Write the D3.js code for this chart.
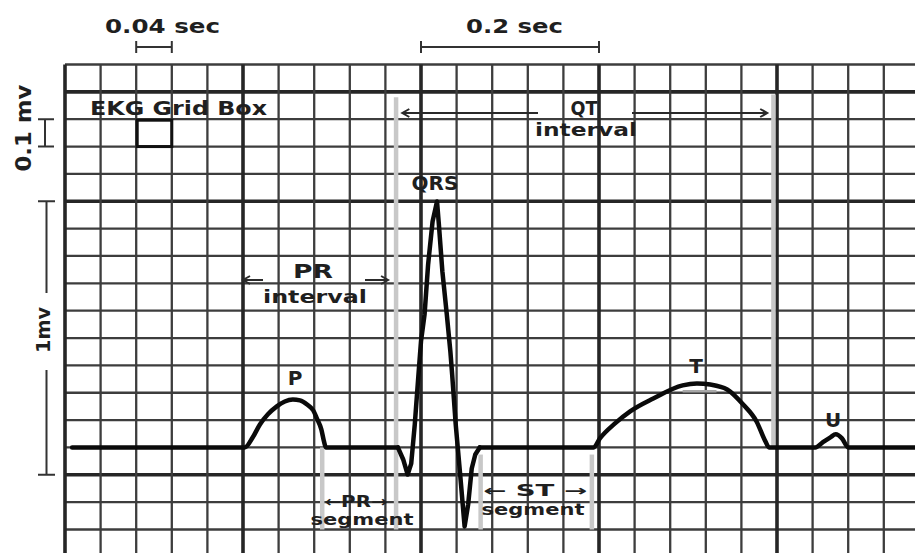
<!DOCTYPE html>
<html><head><meta charset="utf-8">
<script src="https://cdn.jsdelivr.net/npm/d3@7"></script>
<style>
body{margin:0;background:#fff}
svg{display:block}
text{font-family:"DejaVu Sans",sans-serif;font-weight:bold;fill:#1f1f1f}
</style>
</head><body><svg id="c" width="915" height="553"></svg>
<script>
// ---------- data ----------
// ECG trace: time (s) and amplitude (mV, relative to baseline)
const traceTime = [0.008,0.202,0.211,0.219,0.228,0.238,0.247,0.256,0.264,0.272,0.279,0.283,0.288,0.291,0.293,
  0.374,0.380,0.385,0.389,0.393,0.397,0.400,0.404,0.408,0.413,0.418,
  0.420,0.424,0.429,0.433,0.435,0.439,0.444,0.449,
  0.453,0.457,0.461,0.466,
  0.594,0.601,0.618,0.635,0.661,0.694,0.710,0.725,0.744,0.762,0.777,0.787,0.791,
  0.843,0.851,0.860,0.866,0.873,0.880,0.955];
const traceMv = [0,0,0.037,0.084,0.121,0.150,0.168,0.175,0.172,0.157,0.135,0.106,0.066,0.022,0,
  0,-0.044,-0.099,-0.059,0.084,0.260,0.388,0.486,0.669,0.826,0.899,
  0.819,0.644,0.486,0.351,0.267,0.084,-0.099,-0.289,
  -0.208,-0.077,-0.026,0,
  0,0.033,0.088,0.132,0.179,0.227,0.234,0.230,0.212,0.157,0.095,0.022,0,
  0,0.018,0.037,0.048,0.033,0,0];
// Time scale bars (s)
const timeBars = [[0.08,0.12],[0.40,0.60]];
const timeBarLabels = ["0.04 sec","0.2 sec"];
// Voltage scale bars (mV)
const mvBars = [[1.1,1.2],[-0.1,0.9]];
const mvBarLabels = ["0.1 mv","1mv"];
// Boundary markers: time (s), mV from, mV to
const boundaryT  = [0.289,0.372,0.467,0.592,0.796];
const boundaryV0 = [0,1.28,-0.026,-0.026,1.29];
const boundaryV1 = [-0.3,-0.3,-0.3,-0.3,0];
// Interval arrows (s)
const intervalT0 = [0.379,0.200];
const intervalT1 = [0.789,0.363];
const intervalLabels = [["QT","interval"],["PR","interval"]];
const waveLabels = ["P","QRS","T","U"];
const segmentLabels = [["\u2190PR\u2192","segment"],["\u2190 ST \u2192","segment"]];
const gridBoxLabel = "EKG Grid Box";
const thickRowsMv = [1.3,0.9,-0.1];

// ---------- scales ----------
const svg = d3.select("#c");
const x = d3.scaleLinear().domain([0,0.96]).range([65,65+0.96*890]);
const y = d3.scaleLinear().domain([-0.3,1.4]).range([529.5,64.5]);

// ---------- grid ----------
const g = svg.append("g");
const cols = d3.range(0,24).map(j=>j*0.04);
const rows = d3.range(0,18).map(k=>+(-0.3+k*0.1).toFixed(2));
const isThickRow = d=>thickRowsMv.some(t=>Math.abs(t-d)<1e-6);
g.selectAll("line.h").data(rows).join("line")
  .attr("x1",x(0)).attr("x2",915)
  .attr("y1",d=>y(d)).attr("y2",d=>y(d))
  .attr("stroke",d=>isThickRow(d)?"#262626":"#3d3d3d")
  .attr("stroke-width",d=>isThickRow(d)?3.6:2.3);
g.selectAll("line.v").data(cols).join("line")
  .attr("x1",d=>x(d)).attr("x2",d=>x(d))
  .attr("y1",y(1.4)).attr("y2",553)
  .attr("stroke",(d,i)=>i%5===0?"#262626":"#3d3d3d")
  .attr("stroke-width",(d,i)=>i%5===0?3.6:2.3);

// ---------- boundary markers (light gray) ----------
svg.append("g").selectAll("line").data(boundaryT).join("line")
  .attr("x1",d=>x(d)).attr("x2",d=>x(d))
  .attr("y1",(d,i)=>y(boundaryV0[i])).attr("y2",(d,i)=>y(boundaryV1[i]))
  .attr("stroke","#c8c8c8").attr("stroke-width",4.5);
svg.append("line").attr("x1",x(0.694)).attr("x2",x(0.732))
  .attr("y1",y(0.205)).attr("y2",y(0.205)).attr("stroke","#a8a8a8").attr("stroke-width",2.5);

// ---------- ECG trace ----------
const pts = traceTime.map((t,i)=>[t,traceMv[i]]);
const smooth = d3.line().x(d=>x(d[0])).y(d=>y(d[1])).curve(d3.curveMonotoneX);
const sharp = d3.line().x(d=>x(d[0])).y(d=>y(d[1])).curve(d3.curveLinear);
const trace = svg.append("g").attr("fill","none").attr("stroke","#0a0a0a")
  .attr("stroke-width",4.5).attr("stroke-linejoin","round").attr("stroke-linecap","round");
trace.append("path").attr("d",smooth(pts.slice(0,16)));
trace.append("path").attr("d",sharp(pts.slice(15,38)));
trace.append("path").attr("d",smooth(pts.slice(37)));

// ---------- time scale bars ----------
const bars = svg.append("g").attr("stroke","#333").attr("stroke-width",2).attr("fill","none");
timeBars.forEach(b=>{
  bars.append("path").attr("d",`M${x(b[0])},47H${x(b[1])}M${x(b[0])},41V53M${x(b[1])},41V53`);
});
function label(txt,xx,yy,size,len,anchor){
  const t = svg.append("text").attr("x",xx).attr("y",yy).attr("font-size",size)
    .attr("text-anchor",anchor||"start").text(txt);
  if(len) t.attr("textLength",len).attr("lengthAdjust","spacingAndGlyphs");
  return t;
}
label(timeBarLabels[0],105,33,20,115);
label(timeBarLabels[1],466,33,20,97);

// ---------- mV scale bars ----------
bars.append("path").attr("d",`M45,${y(mvBars[0][1])}V${y(mvBars[0][0])}M38,${y(mvBars[0][1])}H54M38,${y(mvBars[0][0])}H54`);
bars.append("path").attr("d",`M46.5,${y(mvBars[1][1])}V293M46.5,370V${y(mvBars[1][0])}M38,${y(mvBars[1][1])}H55M38,${y(mvBars[1][0])}H55`);
svg.append("text").attr("transform","translate(31,128) rotate(-90)")
  .attr("text-anchor","middle").attr("font-size",21)
  .attr("textLength",87).attr("lengthAdjust","spacingAndGlyphs").text(mvBarLabels[0]);
svg.append("text").attr("transform","translate(50,330) rotate(-90)")
  .attr("text-anchor","middle").attr("font-size",19)
  .attr("textLength",46).attr("lengthAdjust","spacingAndGlyphs").text(mvBarLabels[1]);

// ---------- EKG grid box ----------
label(gridBoxLabel,90,115,20,177);
svg.append("rect").attr("x",x(0.08)+1).attr("y",y(1.2)+1)
  .attr("width",x(0.12)-x(0.08)-1).attr("height",y(1.1)-y(1.2)-1)
  .attr("fill","none").attr("stroke","#111").attr("stroke-width",3);

// ---------- interval arrows ----------
function arrow(x1,x2,yy,gap1,gap2){
  const p = `M${x1},${yy}H${gap1}M${gap2},${yy}H${x2}`+
    `M${x1+7},${yy-4}L${x1},${yy}L${x1+7},${yy+4}`+
    `M${x2-7},${yy-4}L${x2},${yy}L${x2-7},${yy+4}`;
  svg.append("path").attr("d",p).attr("fill","none").attr("stroke","#2a2a2a").attr("stroke-width",2);
}
arrow(x(intervalT0[0]),x(intervalT1[0]),113,538,632);
arrow(x(intervalT0[1]),x(intervalT1[1]),280,263,365);
label(intervalLabels[0][0],584,115,19,27,"middle");
label(intervalLabels[0][1],586,136,18,102,"middle");
label(intervalLabels[1][0],313,278,20,40,"middle");
label(intervalLabels[1][1],315,303,18,104,"middle");

// ---------- wave labels ----------
const wavePos = [[295,385],[435,190],[696,373],[833,427]];
waveLabels.forEach((l,i)=>label(l,wavePos[i][0],wavePos[i][1],20,null,"middle"));

// ---------- segment labels ----------
label(segmentLabels[0][0],356,507,15,63,"middle");
label(segmentLabels[0][1],362,525,16,103,"middle");
label(segmentLabels[1][0],535,496,15,104,"middle");
label(segmentLabels[1][1],533,515,16,103,"middle");
</script>
</body></html>
